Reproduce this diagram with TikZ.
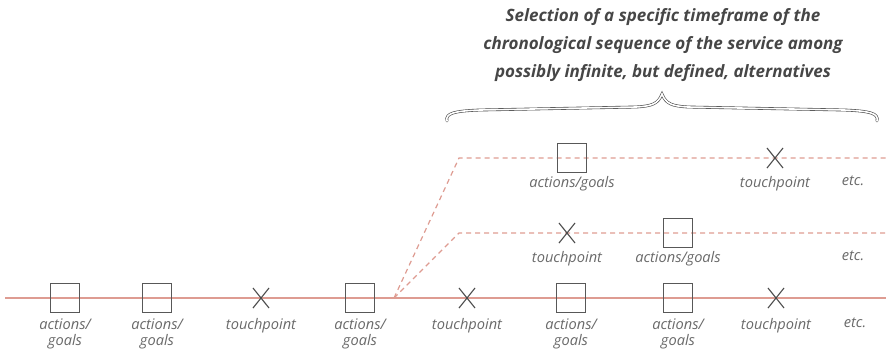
\documentclass[tikz,border=0pt]{standalone}
\usepackage{fontspec}
\setmainfont{Open Sans}
\usetikzlibrary{positioning,shapes.misc}
\definecolor{timeline}{RGB}{222,156,146}
\definecolor{ink}{RGB}{88,88,88}

\begin{document}
\begin{tikzpicture}[x=1pt,y=-1pt,
  goalbox/.style={draw=ink, line width=1pt, minimum size=29pt, inner sep=0pt},
  tpoint/.style={cross out, draw=ink!85!black, line width=1.1pt, minimum width=15pt, minimum height=19pt, inner sep=0pt},
  lbl/.style={font=\fontsize{14.6}{16}\selectfont\itshape, text=ink!90, align=center, inner sep=0pt},
  alt/.style={draw=timeline, line width=1.2pt, dash pattern=on 5pt off 4pt}]
\useasboundingbox (0,0) rectangle (886,357);

\node (title) [font=\fontsize{17}{28}\selectfont\bfseries\itshape, text=ink!80!black, align=center] at (663,45)
  {Selection of a specific timeframe of the\\chronological sequence of the service among\\possibly infinite, but defined, alternatives};
\draw[draw=ink!80!black, line width=0.6pt, double=white, double distance=1.6pt, line cap=round]
  (447,121) .. controls (445,113) and (455,111) .. (480,110) -- (636,107)
  .. controls (652,106) and (658,104) .. (662,94)
  .. controls (666,104) and (672,106) .. (688,107) -- (844,110)
  .. controls (869,111) and (879,113) .. (877,121);

% main sequence
\coordinate (lineL) at (5,298);
\coordinate (lineR) at (886,298);
\coordinate (fork) at (394,298);
\draw[draw=timeline, line width=1.3pt] (lineL) -- (lineR);

\node (ag1) [goalbox] at (65,298) {};
\node (ag2) [goalbox] at (157,298) {};
\node (tp1) [tpoint] at (261,298) {};
\node (ag3) [goalbox] at (360,298) {};
\node (tp2) [tpoint] at (467,298) {};
\node (ag4) [goalbox] at (571,298) {};
\node (ag5) [goalbox] at (678,298) {};
\node (tp3) [tpoint] at (776,298) {};

\node (ag1txt) [lbl, below=5.5pt of ag1] {actions/\\goals};
\node (ag2txt) [lbl, below=5.5pt of ag2] {actions/\\goals};
\node (tp1txt) [lbl, below=10.5pt of tp1] {touchpoint};
\node (ag3txt) [lbl, below=5.5pt of ag3] {actions/\\goals};
\node (tp2txt) [lbl, below=10.5pt of tp2] {touchpoint};
\node (ag4txt) [lbl, below=5.5pt of ag4] {actions/\\goals};
\node (ag5txt) [lbl, below=5.5pt of ag5] {actions/\\goals};
\node (tp3txt) [lbl, below=10.5pt of tp3] {touchpoint};
\node (etc1) [lbl, anchor=north] at (855,318) {etc.};

% alternative A
\coordinate (upA) at (459,158);
\coordinate (endA) at (886,158);
\draw[alt] (fork) -- (upA) -- (endA);
\node (ag6) [goalbox] at (572,158) {};
\node (tp4) [tpoint] at (775,158) {};
\node (ag6txt) [lbl, below=3.5pt of ag6] {actions/goals};
\node (tp4txt) [lbl, below=8.5pt of tp4] {touchpoint};
\node (etc2) [lbl, anchor=north] at (853,176) {etc.};

% alternative B
\coordinate (upB) at (459,233);
\coordinate (endB) at (886,233);
\draw[alt] (fork) -- (upB) -- (endB);
\node (tp5) [tpoint] at (567,233) {};
\node (ag7) [goalbox] at (678,233) {};
\node (tp5txt) [lbl, below=8.5pt of tp5] {touchpoint};
\node (ag7txt) [lbl, below=3.5pt of ag7] {actions/goals};
\node (etc3) [lbl, anchor=north] at (853,251) {etc.};
\end{tikzpicture}
\end{document}
